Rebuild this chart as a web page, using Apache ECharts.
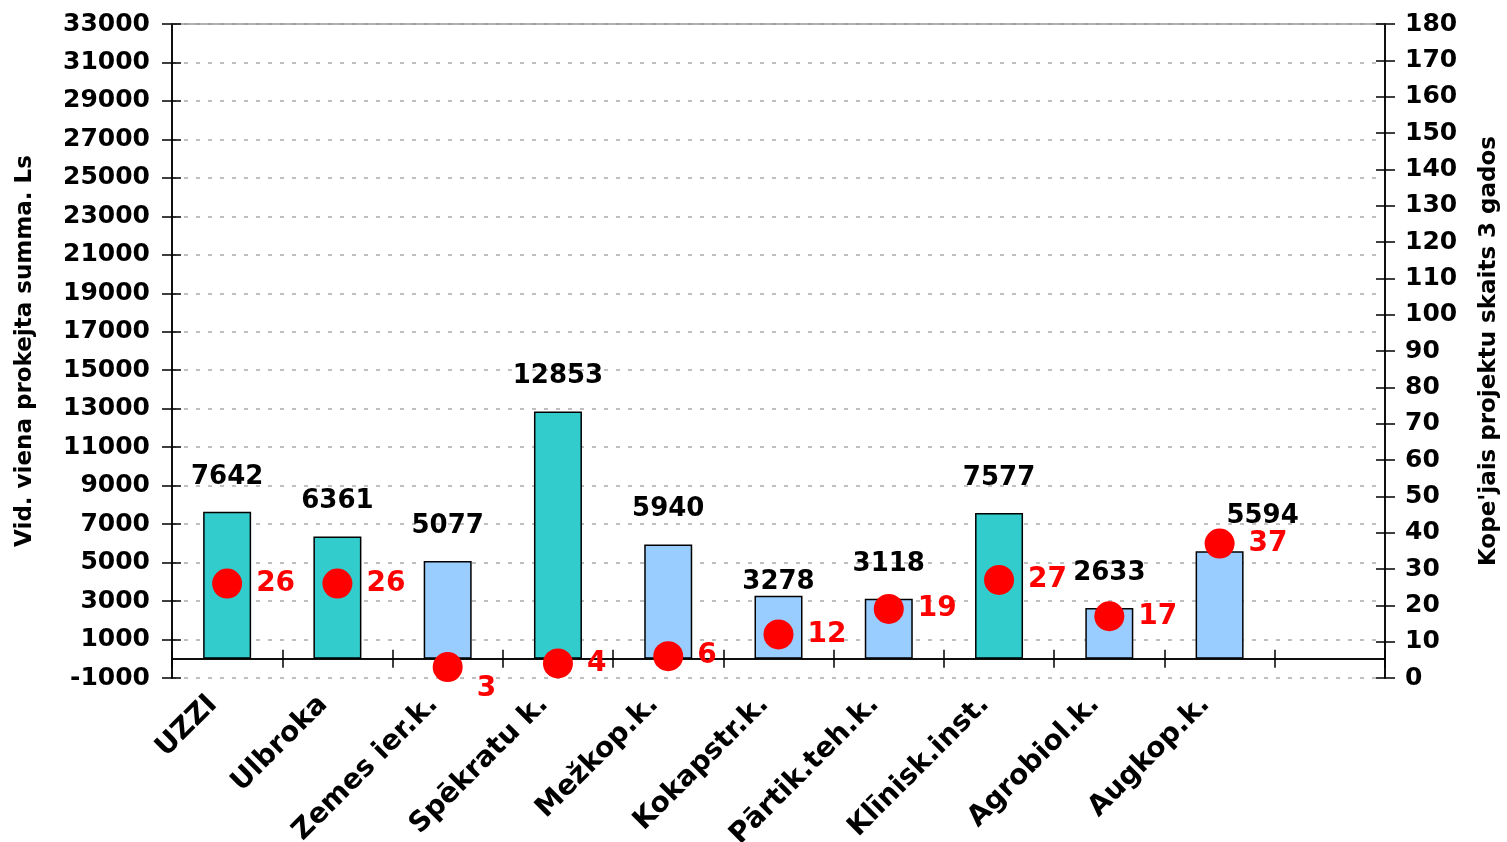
<!DOCTYPE html>
<html>
<head>
<meta charset="utf-8">
<script src="https://cdn.jsdelivr.net/npm/echarts@6/dist/echarts.min.js"></script>
<style>html,body{margin:0;padding:0;background:#fff}#c{width:1507px;height:842px}</style>
</head>
<body>
<div id="c"></div>
<script>
var categories = ['UZZI','Ulbroka','Zemes ier.k.','Spēkratu k.','Mežkop.k.','Kokapstr.k.','Pārtik.teh.k.','Klīnisk.inst.','Agrobiol.k.','Augkop.k.',''];
var avgSum = [7642,6361,5077,12853,5940,3278,3118,7577,2633,5594];
var barKind = ['a','a','b','a','b','b','b','a','b','b'];
var projCount = [26,26,3,4,6,12,19,27,17,37];
var leftTitle = 'Vid. viena prokejta summa. Ls';
var rightTitle = "Kope'jais projektu skaits 3 gados";

var FONT = 'DejaVu Sans';
var colors = {a:'#33CCCC', b:'#99CCFF'};
var barLabelOffsets = {5:[0,22], 9:[43,0]};
var dotLabelOffsets = {2:[0,22]};

var barData = avgSum.map(function(v,i){
  var d = {value:v, itemStyle:{color:colors[barKind[i]]}};
  if (barLabelOffsets[i]) d.label = {offset:barLabelOffsets[i]};
  return d;
});
var dotData = projCount.map(function(v,i){
  var d = {value:v};
  if (dotLabelOffsets[i]) d.label = {offset:dotLabelOffsets[i]};
  return d;
});

function plain(v){ return String(v); }
var tickLbl = {fontFamily:FONT, fontWeight:'bold', fontSize:25, color:'#000', formatter:plain};
var chart = echarts.init(document.getElementById('c'), null, {renderer:'canvas'});
chart.setOption({
  animation:false,
  backgroundColor:'#fff',
  grid:{left:172, right:122, top:24, bottom:164, containLabel:false, outerBoundsMode:'none'},
  xAxis:[{
    type:'category', data:categories, boundaryGap:true,
    axisLine:{onZero:true, onZeroAxisIndex:0, lineStyle:{color:'#000', width:1.5}},
    axisTick:{show:true, inside:false, length:9, lineStyle:{color:'#000', width:1.5}},
    axisLabel:{rotate:45, margin:8, padding:[0,20,0,0], interval:0, fontFamily:FONT, fontWeight:'bold', fontSize:28, color:'#000'},
    splitLine:{show:false}
  },{
    type:'category', data:categories, boundaryGap:true, position:'bottom',
    axisLine:{onZero:true, onZeroAxisIndex:0, lineStyle:{color:'#000', width:1.5}},
    axisTick:{show:true, inside:true, length:9, lineStyle:{color:'#000', width:1.5}},
    axisLabel:{show:false}, splitLine:{show:false}
  },{
    type:'category', data:categories, boundaryGap:true, position:'top',
    axisLine:{show:true, onZero:false, lineStyle:{color:'#999', width:1.5}},
    axisTick:{show:false}, axisLabel:{show:false}, splitLine:{show:false}
  }],
  yAxis:[{
    type:'value', min:-1000, max:33000, interval:2000, position:'left',
    name:leftTitle, nameLocation:'middle', nameGap:135, nameRotate:90,
    nameTextStyle:{fontFamily:FONT, fontWeight:'bold', fontSize:23, color:'#000'},
    axisLine:{show:true, onZero:false, lineStyle:{color:'#000', width:1.5}},
    axisTick:{show:true, length:10, lineStyle:{color:'#000', width:1.5}},
    axisLabel:Object.assign({margin:22}, tickLbl),
    splitLine:{show:true, lineStyle:{color:'#aaa', type:[4,8], width:1.5}}
  },{
    type:'value', min:-1000, max:33000, interval:2000, position:'left',
    axisLine:{show:true, onZero:false, lineStyle:{color:'#000', width:1.5}},
    axisTick:{show:true, inside:true, length:9, lineStyle:{color:'#000', width:1.5}},
    axisLabel:{show:false}, splitLine:{show:false}
  },{
    type:'value', min:0, max:180, interval:10, position:'right',
    name:rightTitle, nameLocation:'middle', nameGap:93, nameRotate:90,
    nameTextStyle:{fontFamily:FONT, fontWeight:'bold', fontSize:23, color:'#000'},
    axisLine:{show:true, onZero:false, lineStyle:{color:'#000', width:1.5}},
    axisTick:{show:true, length:10, lineStyle:{color:'#000', width:1.5}},
    axisLabel:Object.assign({margin:20}, tickLbl),
    splitLine:{show:false}
  },{
    type:'value', min:0, max:180, interval:10, position:'right',
    axisLine:{show:true, onZero:false, lineStyle:{color:'#000', width:1.5}},
    axisTick:{show:true, inside:true, length:9, lineStyle:{color:'#000', width:1.5}},
    axisLabel:{show:false}, splitLine:{show:false}
  }],
  series:[{
    type:'bar', xAxisIndex:0, yAxisIndex:0, data:barData, barWidth:48,
    itemStyle:{borderColor:'#000', borderWidth:1.5},
    label:{show:true, position:'top', distance:22, fontFamily:FONT, fontWeight:'bold', fontSize:26, color:'#000'},
    z:2
  },{
    type:'scatter', xAxisIndex:0, yAxisIndex:2, data:dotData, symbol:'circle', symbolSize:30,
    itemStyle:{color:'#FF0000', opacity:1},
    label:{show:true, position:'right', distance:14, fontFamily:FONT, fontWeight:'bold', fontSize:28, color:'#FF0000'},
    z:5
  }]
});
</script>
</body>
</html>
